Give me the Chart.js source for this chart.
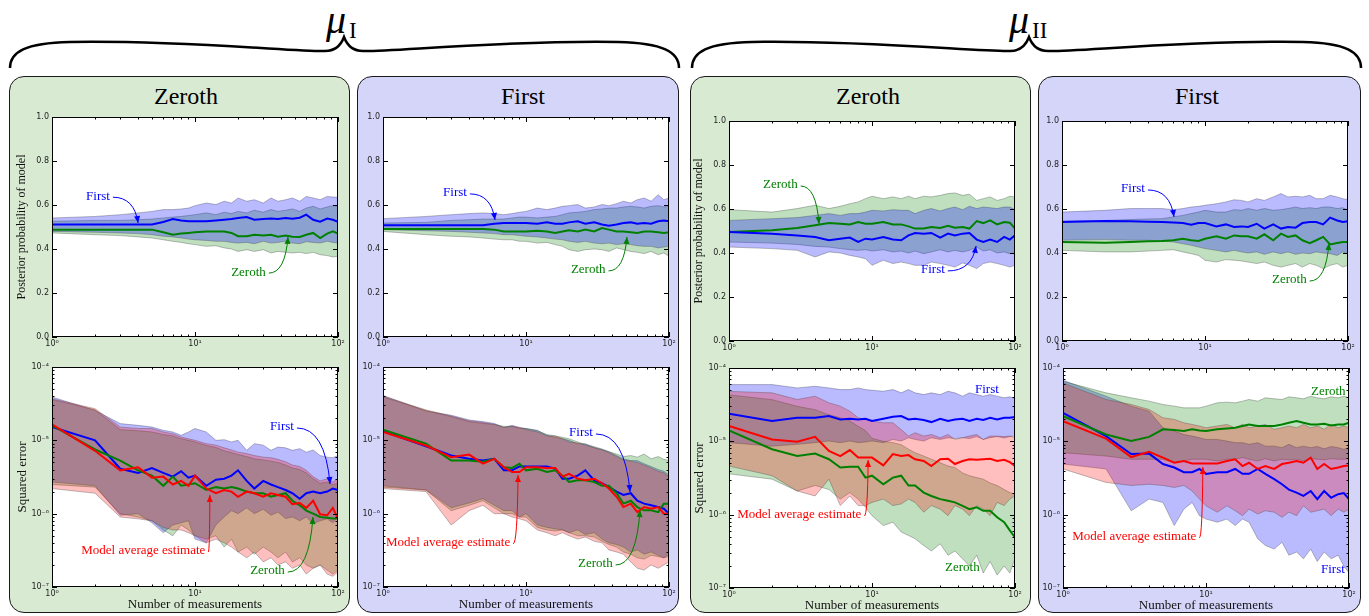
<!DOCTYPE html>
<html>
<head>
<meta charset="utf-8">
<script src="https://cdn.jsdelivr.net/npm/chart.js@4.4.1/dist/chart.umd.min.js"></script>
<style>
    body { margin: 0; width: 1369px; height: 616px; background: #fff; position: relative; overflow: hidden; }
    .panel { position: absolute; top: 76px; height: 537px; border: 1.5px solid #1a1a1a; border-radius: 15px; box-sizing: border-box; }
    .green { background: #d9ead3; }
    .blue { background: #d5d5fa; }
    canvas { position: absolute; }
    svg { position: absolute; left: 0; top: 0; }
</style>
</head>
<body>
<div class="panel green" style="left:9px; width:341px;"></div>
<div class="panel blue" style="left:357px; width:322px;"></div>
<div class="panel green" style="left:690px; width:341px;"></div>
<div class="panel blue" style="left:1038px; width:323px;"></div>

<svg width="1369" height="616">
    <g fill="none" stroke="#000" stroke-width="2.5">
        <path d="M 10 68 C 10 52 25 43 70 42 C 180 40 300 52 325 51 C 336 51 341 45 344 37 C 347 45 352 51 363 51 C 388 52 508 40 618 42 C 663 43 679 52 679 68"/>
        <path d="M 692 68 C 692 52 707 43 752 42 C 862 40 982 52 1010 51 C 1021 51 1026 45 1029 37 C 1032 45 1037 51 1048 51 C 1073 52 1193 40 1303 42 C 1346 43 1361 52 1361 68"/>
    </g>
    <g font-family="Liberation Serif" fill="#000">
        <text x="326" y="33" font-size="40" font-style="italic">μ</text>
        <text x="349" y="38" font-size="23">I</text>
        <text x="1009" y="33" font-size="40" font-style="italic">μ</text>
        <text x="1032" y="38" font-size="23">II</text>
        <g font-size="24" text-anchor="middle">
            <text x="186" y="104">Zeroth</text>
            <text x="523" y="104">First</text>
            <text x="868" y="104">Zeroth</text>
            <text x="1197" y="104">First</text>
        </g>
    </g>
</svg>

<script>
// number of measurements (x values shared by every chart)
const nMeas = [1, 2, 3, 4, 5, 6, 7, 8, 9, 10, 12, 14, 16, 18, 20, 23, 26, 30, 34, 38, 43, 48, 54, 60, 67, 75, 84, 92, 100];

// tick labels
const xTickLabels = ["10⁰", "10¹", "10²"];
const probTickLabels = ["0.0", "0.2", "0.4", "0.6", "0.8", "1.0"];
const errTickLabels = ["10⁻⁷", "10⁻⁶", "10⁻⁵", "10⁻⁴"];

// ---- posterior probability of model (top row) ----
const p1PostFirst = [0.511, 0.511, 0.511, 0.511, 0.511, 0.523, 0.536, 0.530, 0.526, 0.526, 0.526, 0.530, 0.533, 0.536, 0.541, 0.545, 0.533, 0.536, 0.539, 0.536, 0.541, 0.538, 0.542, 0.556, 0.533, 0.524, 0.538, 0.533, 0.524];
const p1PostFirstLo = [0.480, 0.476, 0.473, 0.470, 0.465, 0.458, 0.455, 0.450, 0.445, 0.442, 0.439, 0.435, 0.435, 0.430, 0.427, 0.430, 0.424, 0.435, 0.427, 0.430, 0.435, 0.427, 0.424, 0.433, 0.430, 0.427, 0.435, 0.430, 0.427];
const p1PostFirstHi = [0.541, 0.548, 0.556, 0.564, 0.571, 0.579, 0.579, 0.582, 0.586, 0.597, 0.609, 0.602, 0.617, 0.609, 0.632, 0.617, 0.624, 0.609, 0.632, 0.617, 0.624, 0.632, 0.617, 0.639, 0.632, 0.624, 0.639, 0.636, 0.635];
const p1PostZeroth = [0.488, 0.488, 0.488, 0.488, 0.488, 0.476, 0.465, 0.470, 0.473, 0.476, 0.480, 0.480, 0.480, 0.473, 0.458, 0.458, 0.465, 0.461, 0.465, 0.456, 0.461, 0.456, 0.455, 0.465, 0.473, 0.450, 0.470, 0.480, 0.470];
const p1PostZerothLo = [0.473, 0.465, 0.461, 0.455, 0.450, 0.442, 0.435, 0.430, 0.424, 0.420, 0.412, 0.415, 0.405, 0.400, 0.389, 0.397, 0.389, 0.397, 0.382, 0.389, 0.385, 0.382, 0.385, 0.379, 0.385, 0.374, 0.370, 0.364, 0.367];
const p1PostZerothHi = [0.526, 0.530, 0.530, 0.533, 0.536, 0.541, 0.545, 0.548, 0.552, 0.556, 0.564, 0.556, 0.567, 0.561, 0.571, 0.564, 0.576, 0.567, 0.579, 0.571, 0.576, 0.582, 0.571, 0.586, 0.594, 0.582, 0.591, 0.597, 0.594];

const p2PostFirst = [0.508, 0.508, 0.508, 0.508, 0.508, 0.515, 0.518, 0.518, 0.518, 0.518, 0.515, 0.521, 0.515, 0.515, 0.521, 0.526, 0.515, 0.521, 0.511, 0.506, 0.511, 0.518, 0.521, 0.515, 0.518, 0.515, 0.526, 0.530, 0.526];
const p2PostFirstLo = [0.488, 0.483, 0.480, 0.476, 0.473, 0.470, 0.465, 0.465, 0.461, 0.458, 0.455, 0.450, 0.445, 0.442, 0.435, 0.430, 0.435, 0.427, 0.424, 0.427, 0.420, 0.424, 0.420, 0.415, 0.412, 0.412, 0.405, 0.409, 0.412];
const p2PostFirstHi = [0.538, 0.548, 0.556, 0.561, 0.564, 0.561, 0.556, 0.561, 0.567, 0.571, 0.586, 0.579, 0.586, 0.594, 0.597, 0.602, 0.586, 0.591, 0.602, 0.597, 0.606, 0.617, 0.609, 0.624, 0.632, 0.617, 0.647, 0.624, 0.632];
const p2PostZeroth = [0.491, 0.491, 0.491, 0.491, 0.491, 0.488, 0.480, 0.480, 0.480, 0.480, 0.483, 0.480, 0.473, 0.480, 0.485, 0.480, 0.488, 0.480, 0.495, 0.488, 0.480, 0.480, 0.476, 0.473, 0.480, 0.480, 0.476, 0.473, 0.476];
const p2PostZerothLo = [0.480, 0.465, 0.458, 0.455, 0.450, 0.445, 0.442, 0.442, 0.435, 0.435, 0.427, 0.430, 0.420, 0.412, 0.397, 0.389, 0.397, 0.400, 0.397, 0.389, 0.405, 0.397, 0.389, 0.385, 0.379, 0.389, 0.374, 0.382, 0.367];
const p2PostZerothHi = [0.518, 0.521, 0.530, 0.533, 0.536, 0.536, 0.536, 0.541, 0.545, 0.545, 0.541, 0.545, 0.548, 0.556, 0.564, 0.567, 0.571, 0.579, 0.582, 0.586, 0.586, 0.591, 0.594, 0.591, 0.586, 0.594, 0.597, 0.591, 0.594];

const p3PostFirst = [0.495, 0.488, 0.480, 0.473, 0.458, 0.465, 0.470, 0.450, 0.465, 0.461, 0.473, 0.461, 0.458, 0.480, 0.491, 0.488, 0.491, 0.470, 0.488, 0.480, 0.488, 0.491, 0.461, 0.450, 0.461, 0.450, 0.473, 0.461, 0.480];
const p3PostFirstLo = [0.427, 0.420, 0.412, 0.382, 0.405, 0.400, 0.389, 0.382, 0.374, 0.344, 0.367, 0.352, 0.359, 0.352, 0.344, 0.344, 0.359, 0.352, 0.344, 0.336, 0.355, 0.344, 0.329, 0.352, 0.359, 0.352, 0.344, 0.336, 0.344];
const p3PostFirstHi = [0.548, 0.556, 0.561, 0.571, 0.579, 0.571, 0.579, 0.579, 0.586, 0.594, 0.591, 0.597, 0.594, 0.594, 0.579, 0.594, 0.602, 0.591, 0.602, 0.609, 0.597, 0.612, 0.602, 0.609, 0.606, 0.602, 0.609, 0.609, 0.597];
const p3PostZeroth = [0.495, 0.503, 0.514, 0.526, 0.536, 0.533, 0.530, 0.541, 0.533, 0.533, 0.541, 0.530, 0.530, 0.521, 0.511, 0.511, 0.518, 0.514, 0.524, 0.515, 0.518, 0.511, 0.545, 0.536, 0.548, 0.530, 0.541, 0.538, 0.511];
const p3PostZerothLo = [0.450, 0.445, 0.439, 0.430, 0.427, 0.420, 0.415, 0.412, 0.415, 0.409, 0.415, 0.405, 0.409, 0.400, 0.409, 0.397, 0.405, 0.415, 0.405, 0.412, 0.405, 0.412, 0.427, 0.409, 0.415, 0.400, 0.405, 0.397, 0.400];
const p3PostZerothHi = [0.597, 0.586, 0.602, 0.617, 0.602, 0.612, 0.624, 0.632, 0.647, 0.658, 0.647, 0.655, 0.647, 0.658, 0.647, 0.658, 0.655, 0.662, 0.670, 0.673, 0.662, 0.667, 0.639, 0.647, 0.655, 0.639, 0.647, 0.658, 0.655];

const p4PostFirst = [0.541, 0.545, 0.544, 0.542, 0.541, 0.539, 0.536, 0.529, 0.536, 0.536, 0.521, 0.530, 0.518, 0.521, 0.518, 0.533, 0.511, 0.530, 0.511, 0.518, 0.515, 0.536, 0.541, 0.541, 0.530, 0.561, 0.548, 0.541, 0.544];
const p4PostFirstLo = [0.458, 0.461, 0.458, 0.458, 0.455, 0.450, 0.442, 0.435, 0.427, 0.420, 0.412, 0.405, 0.412, 0.405, 0.400, 0.405, 0.394, 0.405, 0.397, 0.405, 0.394, 0.400, 0.397, 0.405, 0.400, 0.397, 0.389, 0.405, 0.397];
const p4PostFirstHi = [0.586, 0.594, 0.602, 0.602, 0.602, 0.597, 0.602, 0.609, 0.612, 0.617, 0.624, 0.632, 0.642, 0.639, 0.632, 0.647, 0.639, 0.655, 0.670, 0.655, 0.658, 0.655, 0.662, 0.647, 0.647, 0.662, 0.655, 0.647, 0.642];
const p4PostZeroth = [0.450, 0.447, 0.450, 0.453, 0.455, 0.458, 0.465, 0.458, 0.455, 0.465, 0.476, 0.465, 0.480, 0.476, 0.476, 0.465, 0.485, 0.458, 0.488, 0.473, 0.480, 0.458, 0.445, 0.458, 0.473, 0.439, 0.445, 0.450, 0.450];
const p4PostZerothLo = [0.412, 0.405, 0.405, 0.409, 0.412, 0.415, 0.405, 0.397, 0.389, 0.367, 0.359, 0.370, 0.367, 0.364, 0.359, 0.352, 0.359, 0.344, 0.336, 0.344, 0.352, 0.336, 0.352, 0.344, 0.329, 0.344, 0.352, 0.336, 0.344];
const p4PostZerothHi = [0.545, 0.548, 0.552, 0.555, 0.556, 0.564, 0.571, 0.579, 0.586, 0.594, 0.586, 0.586, 0.597, 0.594, 0.602, 0.594, 0.602, 0.594, 0.597, 0.602, 0.609, 0.602, 0.606, 0.602, 0.609, 0.609, 0.602, 0.606, 0.594];

// ---- squared error (bottom row), values in units of 1e-6 ----
const p1ErrFirst = [15.2, 10, 4.1, 3.6, 4.2, 3.6, 3.2, 3.8, 3.1, 3.3, 2.4, 2.9, 3.0, 3.3, 3.9, 2.8, 2.2, 2.8, 2.5, 2.3, 2.1, 1.9, 1.6, 1.9, 2.0, 1.9, 2.0, 2.2, 2.1];
const p1ErrFirstLo = [2.7, 2.4, 0.95, 1.0, 0.75, 0.55, 0.7, 0.75, 0.8, 0.45, 0.4, 0.7, 0.9, 1.1, 1.0, 1.2, 1.0, 1.15, 0.95, 1.05, 0.86, 0.9, 0.8, 0.9, 0.73, 0.8, 0.85, 0.75, 0.9];
const p1ErrFirstHi = [39, 25.6, 16.9, 16, 15.2, 13.7, 13, 11.7, 13, 14.5, 13, 10, 10.2, 9.5, 10, 7.3, 9, 8.6, 7.3, 8.1, 7.9, 7.3, 7.7, 6.9, 7.4, 6.2, 5.9, 5.8, 6.2];
const p1ErrZeroth = [16, 7.5, 5.3, 3.9, 3.3, 2.4, 3.2, 2.4, 2.5, 2.6, 2.1, 2.3, 2.2, 2.3, 2.2, 2.0, 1.9, 1.9, 1.7, 1.8, 1.9, 1.5, 1.3, 1.1, 1.0, 0.9, 0.88, 0.86, 0.86];
const p1ErrZerothLo = [2.5, 2.3, 1.0, 0.9, 0.8, 0.6, 0.5, 0.7, 0.6, 0.5, 0.45, 0.5, 0.35, 0.45, 0.3, 0.35, 0.28, 0.35, 0.3, 0.25, 0.3, 0.22, 0.25, 0.2, 0.18, 0.2, 0.17, 0.15, 0.17];
const p1ErrZerothHi = [36, 26, 14, 13.5, 13, 12, 11.5, 10.5, 10, 9.5, 8.5, 8, 7.2, 6.8, 6.4, 6.0, 5.6, 5.4, 5.2, 5.0, 4.6, 4.2, 4.0, 3.6, 3.0, 2.6, 2.7, 2.5, 2.6];
const p1ErrAvg = [16.5, 7.2, 3.9, 4.3, 3.1, 3.2, 2.5, 2.8, 2.4, 3.3, 2.2, 1.9, 2.1, 2.0, 1.7, 2.0, 1.9, 1.7, 1.9, 1.8, 1.7, 1.35, 1.4, 1.2, 1.5, 0.98, 0.95, 1.2, 0.85];
const p1ErrAvgLo = [2.2, 1.9, 0.9, 0.85, 0.8, 0.65, 0.6, 0.6, 0.55, 0.5, 0.4, 0.45, 0.4, 0.35, 0.3, 0.25, 0.3, 0.22, 0.25, 0.2, 0.22, 0.18, 0.2, 0.15, 0.18, 0.2, 0.15, 0.14, 0.16];
const p1ErrAvgHi = [37, 27, 15.2, 14.5, 14.5, 13, 12.3, 11.1, 10.5, 10, 9, 8.6, 7.9, 7.4, 6.9, 6.6, 6.2, 5.9, 5.8, 5.5, 5.1, 4.6, 4.4, 3.9, 3.2, 2.8, 3.0, 2.7, 3.0];

const p2ErrFirst = [13.3, 8.3, 6.2, 5.6, 5.3, 5.6, 3.9, 3.9, 4.4, 4.4, 4.4, 4.4, 4.1, 3.0, 3.0, 3.3, 3.9, 2.85, 2.6, 2.3, 2.0, 1.8, 1.9, 1.5, 1.37, 1.3, 1.23, 1.17, 1.0];
const p2ErrFirstLo = [2.4, 2.1, 1.2, 1.4, 1.6, 1.3, 1.1, 1.1, 0.9, 1.0, 0.7, 0.65, 0.62, 0.6, 0.55, 0.6, 0.52, 0.55, 0.45, 0.4, 0.38, 0.35, 0.3, 0.32, 0.28, 0.3, 0.27, 0.25, 0.28];
const p2ErrFirstHi = [41, 25, 22, 19, 18, 17, 15, 16, 15, 14.5, 13.7, 11.7, 11, 10.5, 10, 9, 9, 8, 7.5, 7, 6.2, 5.6, 5.3, 5.3, 4.8, 4.4, 4.0, 3.8, 3.4];
const p2ErrZeroth = [14.0, 9.0, 5.3, 5.3, 5.1, 5.6, 4.3, 4.2, 4.8, 3.9, 4.1, 3.7, 3.9, 3.3, 2.7, 2.85, 2.85, 2.7, 2.4, 2.4, 1.9, 1.37, 1.5, 1.23, 1.11, 1.11, 1.05, 1.37, 1.37];
const p2ErrZerothLo = [2.3, 2.1, 1.1, 1.3, 1.5, 1.2, 1.0, 1.0, 0.9, 0.9, 0.65, 0.6, 0.58, 0.6, 0.55, 0.5, 0.5, 0.48, 0.42, 0.38, 0.35, 0.3, 0.28, 0.25, 0.24, 0.27, 0.26, 0.25, 0.26];
const p2ErrZerothHi = [39, 25.5, 21, 18, 17, 16.5, 15.5, 15.5, 14.5, 14.5, 13.5, 12, 11.5, 11, 10.5, 9.5, 8.8, 8.2, 7.6, 7.0, 6.5, 6.0, 6.2, 5.9, 6.5, 5.6, 6.0, 5.5, 5.3];
const p2ErrAvg = [13.0, 8.5, 5.9, 6.4, 4.8, 5.6, 4.3, 3.7, 3.7, 4.3, 4.3, 4.2, 4.2, 3.2, 3.5, 3.0, 2.85, 3.0, 2.6, 2.2, 1.7, 1.23, 1.37, 1.05, 1.23, 1.17, 1.23, 1.0, 1.0];
const p2ErrAvgLo = [2.2, 2.0, 0.7, 1.1, 1.3, 1.0, 1.0, 0.9, 0.85, 0.8, 0.6, 0.55, 0.5, 0.55, 0.5, 0.45, 0.48, 0.42, 0.4, 0.32, 0.3, 0.28, 0.22, 0.18, 0.17, 0.2, 0.18, 0.2, 0.22];
const p2ErrAvgHi = [40, 26, 21.5, 18.5, 17.5, 16.5, 15, 15.5, 15, 14, 13, 11.5, 11.5, 10.5, 9.5, 9.2, 8.6, 7.9, 7.4, 6.8, 6.0, 5.4, 5.2, 5.0, 4.6, 4.2, 3.8, 3.6, 3.2];

const p3ErrFirst = [23.8, 18.9, 20.9, 20.9, 22.1, 19.9, 20.3, 19.9, 20.3, 18.9, 20.3, 21.6, 22.1, 19.9, 20.3, 19.5, 18.3, 20.3, 18.9, 19.9, 20.3, 18.9, 20.3, 19.5, 20.9, 19.9, 20.9, 20.9, 21.4];
const p3ErrFirstLo = [9.6, 8.6, 9.1, 9.6, 10.1, 9.6, 10.1, 9.6, 9.8, 10.1, 9.6, 10.6, 10.1, 11.2, 10.6, 10.1, 11.2, 10.6, 11.2, 10.9, 11.2, 10.9, 11.6, 10.6, 11.2, 11.6, 11.1, 11.6, 11.8];
const p3ErrFirstHi = [59.4, 59.4, 53.5, 56.4, 53.5, 50.8, 50.8, 53.5, 50.8, 49.7, 48.2, 50.8, 45.8, 50.8, 45.8, 43.4, 45.8, 43.4, 48.2, 45.8, 41.3, 45.8, 43.4, 41.3, 43.4, 41.3, 39.2, 40.4, 38.3];
const p3ErrZeroth = [14.1, 7.8, 6.3, 6.8, 5.7, 4.4, 4.5, 4.5, 3.2, 3.4, 2.6, 3.2, 3.4, 2.5, 2.5, 2.0, 1.8, 1.63, 1.55, 1.47, 1.32, 1.19, 1.26, 1.13, 1.13, 0.92, 0.79, 0.61, 0.49];
const p3ErrZerothLo = [3.6, 3.05, 2.1, 2.5, 2.2, 1.63, 2.0, 1.63, 1.26, 0.97, 0.71, 0.79, 0.58, 0.52, 0.47, 0.38, 0.32, 0.4, 0.28, 0.32, 0.25, 0.2, 0.28, 0.16, 0.23, 0.15, 0.2, 0.16, 0.25];
const p3ErrZerothHi = [43, 37, 30, 27, 23, 21, 19, 16, 14, 11, 10, 9.6, 9, 7.8, 7, 6.3, 5.7, 5.1, 4.6, 4.4, 3.7, 3.4, 3.2, 3.05, 2.7, 2.5, 2.2, 2.0, 1.9];
const p3ErrAvg = [16.2, 10.6, 9.9, 11.5, 7.4, 6.3, 7.6, 6.0, 6.0, 6.0, 4.7, 6.7, 6.3, 6.5, 5.7, 5.4, 4.6, 5.7, 5.8, 4.9, 5.4, 5.7, 5.6, 5.7, 5.8, 5.4, 5.6, 5.2, 4.6];
const p3ErrAvgLo = [4.6, 3.4, 2.1, 1.8, 3.05, 1.33, 1.8, 1.33, 1.33, 1.47, 1.63, 1.33, 1.4, 1.63, 1.47, 1.08, 1.33, 1.19, 0.97, 1.33, 1.19, 0.97, 1.33, 1.19, 0.97, 1.47, 1.33, 1.63, 1.8];
const p3ErrAvgHi = [48, 45.8, 37.2, 41.3, 33.5, 30.2, 25.8, 21, 19.9, 18.9, 17.9, 17.9, 14.5, 11.8, 13.1, 11.8, 12.4, 11.2, 12.4, 10.6, 11.2, 11.8, 12.4, 10.6, 11.8, 11.8, 11.6, 11.8, 11.2];

const p4ErrFirst = [24.5, 11.8, 6.7, 6.8, 4.9, 4.4, 3.8, 3.8, 4.2, 3.6, 3.8, 3.8, 4.2, 3.6, 3.6, 4.2, 3.6, 3.05, 2.6, 2.2, 2.0, 1.8, 2.1, 1.63, 2.1, 1.7, 1.9, 1.97, 1.63];
const p4ErrFirstLo = [4.9, 4.2, 1.13, 1.63, 1.47, 0.71, 1.19, 1.47, 0.97, 0.87, 0.79, 0.87, 0.71, 0.87, 0.79, 0.47, 0.38, 0.34, 0.42, 0.28, 0.31, 0.25, 0.34, 0.23, 0.31, 0.25, 0.28, 0.2, 0.16];
const p4ErrFirstHi = [68, 41.2, 30.2, 25.8, 15.3, 13.8, 12.4, 11.8, 11.2, 10.6, 10.6, 10.1, 9.6, 9.6, 9.1, 9.6, 8.6, 8.6, 8.2, 9.1, 8.2, 8.6, 8.2, 8.5, 7.9, 8.5, 8.2, 7.8, 8.2];
const p4ErrZeroth = [22.1, 12.4, 10.1, 11.5, 14.6, 14.3, 13.8, 14.6, 14.1, 13.8, 14.6, 15.0, 15.3, 16.2, 17.0, 16.2, 16.2, 16.2, 17.0, 17.9, 18.9, 17.9, 17.0, 17.0, 17.4, 16.5, 17.0, 17.0, 17.9];
const p4ErrZerothLo = [7.0, 6.3, 5.7, 5.7, 5.7, 5.1, 5.4, 5.7, 5.7, 5.7, 5.4, 5.7, 5.7, 6.0, 5.7, 5.4, 5.8, 5.4, 5.7, 5.6, 5.7, 5.4, 5.8, 5.7, 5.6, 5.8, 5.7, 5.7, 5.8];
const p4ErrZerothHi = [66, 45.8, 39.2, 35.3, 31.8, 30.2, 28.6, 28.6, 28.6, 30.2, 33.5, 34.2, 33.5, 35.3, 37.2, 35.3, 39.2, 38, 37.2, 40.4, 39.2, 38, 41.2, 39.2, 38, 40.4, 39.2, 41.2, 39.2];
const p4ErrAvg = [18.9, 10.9, 6.1, 7.2, 6.0, 5.1, 5.4, 5.0, 5.0, 5.0, 5.0, 5.4, 5.7, 4.6, 5.1, 4.2, 4.6, 4.2, 4.9, 5.1, 5.4, 5.1, 6.0, 4.2, 4.9, 4.2, 4.4, 4.6, 4.7];
const p4ErrAvgLo = [4.2, 2.75, 2.5, 2.6, 2.5, 2.35, 2.5, 2.1, 1.63, 1.32, 1.08, 1.32, 1.13, 0.97, 1.19, 1.02, 1.13, 1.08, 0.92, 1.08, 0.97, 1.32, 1.08, 1.13, 1.19, 0.97, 1.19, 1.08, 1.19];
const p4ErrAvgHi = [62.6, 37.2, 31.8, 27.2, 21, 19.9, 17.9, 17, 16.2, 15.3, 16.2, 17, 15.3, 17, 15.3, 16.2, 17, 14.6, 15.3, 16.2, 15.3, 17, 15.3, 16.2, 14.6, 17, 15.3, 16.2, 15.3];

// colours
const BLUE = "#0000ff";
const GREEN = "#008000";
const RED = "#ff0000";
const BLUE_BAND = "rgba(0, 0, 255, 0.27)";
const GREEN_BAND = "rgba(0, 128, 0, 0.25)";
const RED_BAND = "rgba(255, 0, 0, 0.25)";
const EDGE = "rgba(70, 70, 70, 0.45)";

const AREA_W = 286;
const AREA_H = 220;
const PAD = { left: 37, top: 8, right: 12 };
const TICK_FONT = { family: "DejaVu Sans", size: 8 };

const toPoints = (values) => nMeas.map((n, i) => ({ x: n, y: values[i] }));
const isDecade = (v) => Math.abs(Math.log10(v) - Math.round(Math.log10(v))) < 1e-9;

// white plot area, black frame and inward ticks on all four sides
const frameTicks = {
    id: "frameTicks",
    beforeDraw(chart) {
        const { ctx, chartArea: a } = chart;
        ctx.save();
        ctx.fillStyle = "#fff";
        ctx.fillRect(a.left, a.top, a.right - a.left, a.bottom - a.top);
        ctx.restore();
    },
    afterDatasetsDraw(chart) {
        const { ctx, chartArea: a, scales: { x, y } } = chart;
        ctx.save();
        ctx.strokeStyle = "#000";
        ctx.lineWidth = 1;
        const seg = (x1, y1, x2, y2) => { ctx.beginPath(); ctx.moveTo(x1, y1); ctx.lineTo(x2, y2); ctx.stroke(); };

        for (let e = 0; e <= 2; e++) {
            for (let k = 1; k <= 9; k++) {
                const v = k * Math.pow(10, e);
                if (v > 100) break;
                const px = Math.round(x.getPixelForValue(v)) + 0.5;
                const len = k === 1 ? 5 : 2.5;
                seg(px, a.bottom, px, a.bottom - len);
                seg(px, a.top, px, a.top + len);
            }
        }
        if (y.type === "logarithmic") {
            for (let e = -1; e <= 2; e++) {
                for (let k = 1; k <= 9; k++) {
                    const v = k * Math.pow(10, e);
                    if (v > 100.0001) break;
                    const py = Math.round(y.getPixelForValue(v)) + 0.5;
                    const len = k === 1 ? 5 : 2.5;
                    seg(a.left, py, a.left + len, py);
                    seg(a.right, py, a.right - len, py);
                }
            }
        } else {
            probTickLabels.forEach((label, i) => {
                const py = Math.round(y.getPixelForValue(i * 0.2)) + 0.5;
                seg(a.left, py, a.left + 5, py);
                seg(a.right, py, a.right - 5, py);
            });
        }
        ctx.strokeRect(Math.round(a.left) + 0.5, Math.round(a.top) + 0.5, Math.round(a.right - a.left) - 1, Math.round(a.bottom - a.top) - 1);
        ctx.restore();
    },
};

// labels with curved arrows, placed in data coordinates
const notes = {
    id: "notes",
    afterDatasetsDraw(chart, args, opts) {
        const { ctx, scales: { x, y } } = chart;
        ctx.save();
        ctx.font = "13px 'Liberation Serif'";
        ctx.textBaseline = "middle";
        ctx.textAlign = "left";
        (opts.items || []).forEach((note) => {
            const tx = x.getPixelForValue(note.at[0]);
            const ty = y.getPixelForValue(note.at[1]);
            ctx.fillStyle = note.color;
            ctx.fillText(note.text, tx, ty);
            if (!note.to) return;
            const sx = tx + ctx.measureText(note.text).width + 3;
            const sy = ty + 1;
            const ex = x.getPixelForValue(note.to[0]);
            const ey = y.getPixelForValue(note.to[1]);
            const cx = sx + 0.85 * (ex - sx);
            const cy = sy;
            ctx.strokeStyle = note.color;
            ctx.lineWidth = 1;
            ctx.beginPath();
            ctx.moveTo(sx, sy);
            ctx.quadraticCurveTo(cx, cy, ex, ey);
            ctx.stroke();
            const ang = Math.atan2(ey - cy, ex - cx);
            ctx.beginPath();
            ctx.moveTo(ex, ey);
            ctx.lineTo(ex - 7 * Math.cos(ang) + 3 * Math.sin(ang), ey - 7 * Math.sin(ang) - 3 * Math.cos(ang));
            ctx.lineTo(ex - 7 * Math.cos(ang) - 3 * Math.sin(ang), ey - 7 * Math.sin(ang) + 3 * Math.cos(ang));
            ctx.closePath();
            ctx.fill();
        });
        ctx.restore();
    },
};

function makeChart(box, kind, series, noteItems, yTitle) {
    const bottomPad = kind === "err" ? 26 : 16;
    const canvas = document.createElement("canvas");
    canvas.width = PAD.left + AREA_W + PAD.right;
    canvas.height = PAD.top + AREA_H + bottomPad;
    canvas.style.left = (box.left - PAD.left) + "px";
    canvas.style.top = (box.top - PAD.top) + "px";
    document.body.appendChild(canvas);

    const datasets = [];
    // bands first (drawn underneath), then the mean lines
    series.forEach((s, i) => {
        const hiIndex = datasets.length;
        datasets.push({ data: toPoints(s.hi), borderColor: EDGE, borderWidth: 0.8, fill: false, order: 100 - 2 * i });
        datasets.push({ data: toPoints(s.lo), borderColor: EDGE, borderWidth: 0.8, backgroundColor: s.band, fill: hiIndex, order: 99 - 2 * i });
    });
    series.forEach((s, i) => {
        datasets.push({ data: toPoints(s.mean), borderColor: s.line, borderWidth: 2, fill: false, order: 10 - i });
    });

    const yScale = kind === "err"
        ? {
            type: "logarithmic", min: 0.1, max: 100,
            ticks: {
                autoSkip: false, padding: 3, font: TICK_FONT, color: "#222",
                callback: (v) => (isDecade(v) ? errTickLabels[Math.round(Math.log10(v)) + 1] : ""),
            },
        }
        : {
            type: "linear", min: 0, max: 1,
            ticks: {
                stepSize: 0.2, padding: 3, font: TICK_FONT, color: "#222",
                callback: (v) => probTickLabels[Math.round(v * 5)],
            },
        };
    yScale.grid = { display: false, drawTicks: false };
    yScale.border = { display: false };
    yScale.afterFit = (scale) => { scale.width = PAD.left; };
    yScale.title = {
        display: !!yTitle, text: yTitle || "", color: "#111",
        font: { family: "Liberation Serif", size: kind === "err" ? 13 : 12 },
        padding: { top: 0, bottom: 0 },
    };

    new Chart(canvas, {
        type: "line",
        data: { datasets },
        options: {
            responsive: false,
            animation: false,
            devicePixelRatio: 1,
            layout: { padding: { left: 0, top: PAD.top, right: PAD.right, bottom: 0 } },
            elements: { point: { radius: 0 }, line: { tension: 0 } },
            plugins: { legend: { display: false }, tooltip: { enabled: false }, notes: { items: noteItems } },
            scales: {
                x: {
                    type: "logarithmic", min: 1, max: 100,
                    grid: { display: false, drawTicks: false },
                    border: { display: false },
                    ticks: {
                        autoSkip: false, maxRotation: 0, padding: 2, font: TICK_FONT, color: "#222",
                        callback: (v) => (isDecade(v) ? xTickLabels[Math.round(Math.log10(v))] : ""),
                    },
                    title: {
                        display: kind === "err", text: "Number of measurements", color: "#111",
                        font: { family: "Liberation Serif", size: 13 }, padding: { top: 0, bottom: 1 },
                    },
                    afterFit: (scale) => { scale.height = bottomPad; },
                },
                y: yScale,
            },
        },
        plugins: [frameTicks, notes],
    });
}

const POST_TITLE = "Posterior probability of model";
const ERR_TITLE = "Squared error";
const MAE = "Model average estimate";

// top row: zeroth band drawn first, first band on top
makeChart({ left: 52, top: 117 }, "post", [
    { mean: p1PostZeroth, lo: p1PostZerothLo, hi: p1PostZerothHi, line: GREEN, band: GREEN_BAND },
    { mean: p1PostFirst, lo: p1PostFirstLo, hi: p1PostFirstHi, line: BLUE, band: BLUE_BAND },
], [
    { text: "First", color: BLUE, at: [1.73, 0.64], to: [4.0, 0.518] },
    { text: "Zeroth", color: GREEN, at: [17.9, 0.295], to: [44.7, 0.455] },
], POST_TITLE);

makeChart({ left: 383, top: 117 }, "post", [
    { mean: p2PostZeroth, lo: p2PostZerothLo, hi: p2PostZerothHi, line: GREEN, band: GREEN_BAND },
    { mean: p2PostFirst, lo: p2PostFirstLo, hi: p2PostFirstHi, line: BLUE, band: BLUE_BAND },
], [
    { text: "First", color: BLUE, at: [2.63, 0.655], to: [6.07, 0.532] },
    { text: "Zeroth", color: GREEN, at: [20.6, 0.305], to: [50.8, 0.455] },
], null);

makeChart({ left: 729, top: 121 }, "post", [
    { mean: p3PostZeroth, lo: p3PostZerothLo, hi: p3PostZerothHi, line: GREEN, band: GREEN_BAND },
    { mean: p3PostFirst, lo: p3PostFirstLo, hi: p3PostFirstHi, line: BLUE, band: BLUE_BAND },
], [
    { text: "Zeroth", color: GREEN, at: [1.73, 0.709], to: [4.26, 0.532] },
    { text: "First", color: BLUE, at: [22, 0.323], to: [53.4, 0.432] },
], POST_TITLE);

makeChart({ left: 1062, top: 121 }, "post", [
    { mean: p4PostZeroth, lo: p4PostZerothLo, hi: p4PostZerothHi, line: GREEN, band: GREEN_BAND },
    { mean: p4PostFirst, lo: p4PostFirstLo, hi: p4PostFirstHi, line: BLUE, band: BLUE_BAND },
], [
    { text: "First", color: BLUE, at: [2.59, 0.691], to: [6.07, 0.564] },
    { text: "Zeroth", color: GREEN, at: [29.4, 0.277], to: [73.6, 0.445] },
], null);

// bottom row
makeChart({ left: 52, top: 367 }, "err", [
    { mean: p1ErrFirst, lo: p1ErrFirstLo, hi: p1ErrFirstHi, line: BLUE, band: BLUE_BAND },
    { mean: p1ErrZeroth, lo: p1ErrZerothLo, hi: p1ErrZerothHi, line: GREEN, band: GREEN_BAND },
    { mean: p1ErrAvg, lo: p1ErrAvgLo, hi: p1ErrAvgHi, line: RED, band: RED_BAND },
], [
    { text: "First", color: BLUE, at: [33.5, 15.2], to: [88, 2.54] },
    { text: MAE, color: RED, at: [1.6, 0.31], to: [12.7, 1.8] },
    { text: "Zeroth", color: GREEN, at: [24.3, 0.165], to: [66.8, 0.9] },
], ERR_TITLE);

makeChart({ left: 383, top: 367 }, "err", [
    { mean: p2ErrFirst, lo: p2ErrFirstLo, hi: p2ErrFirstHi, line: BLUE, band: BLUE_BAND },
    { mean: p2ErrZeroth, lo: p2ErrZerothLo, hi: p2ErrZerothHi, line: GREEN, band: GREEN_BAND },
    { mean: p2ErrAvg, lo: p2ErrAvgLo, hi: p2ErrAvgHi, line: RED, band: RED_BAND },
], [
    { text: "First", color: BLUE, at: [20, 12.6], to: [53.4, 1.97] },
    { text: MAE, color: RED, at: [1.05, 0.4], to: [8.8, 3.37] },
    { text: "Zeroth", color: GREEN, at: [23.1, 0.206], to: [62.7, 1.12] },
], null);

makeChart({ left: 729, top: 368 }, "err", [
    { mean: p3ErrFirst, lo: p3ErrFirstLo, hi: p3ErrFirstHi, line: BLUE, band: BLUE_BAND },
    { mean: p3ErrZeroth, lo: p3ErrZerothLo, hi: p3ErrZerothHi, line: GREEN, band: GREEN_BAND },
    { mean: p3ErrAvg, lo: p3ErrAvgLo, hi: p3ErrAvgHi, line: RED, band: RED_BAND },
], [
    { text: "First", color: BLUE, at: [52.5, 50] },
    { text: MAE, color: RED, at: [1.14, 0.99], to: [9.4, 5.56] },
    { text: "Zeroth", color: GREEN, at: [32.4, 0.187] },
], ERR_TITLE);

makeChart({ left: 1063, top: 368 }, "err", [
    { mean: p4ErrFirst, lo: p4ErrFirstLo, hi: p4ErrFirstHi, line: BLUE, band: BLUE_BAND },
    { mean: p4ErrZeroth, lo: p4ErrZerothLo, hi: p4ErrZerothHi, line: GREEN, band: GREEN_BAND },
    { mean: p4ErrAvg, lo: p4ErrAvgLo, hi: p4ErrAvgHi, line: RED, band: RED_BAND },
], [
    { text: "Zeroth", color: GREEN, at: [54.2, 47] },
    { text: "First", color: BLUE, at: [63.7, 0.176] },
    { text: MAE, color: RED, at: [1.16, 0.5], to: [9.5, 4.47] },
], null);
</script>
</body>
</html>
